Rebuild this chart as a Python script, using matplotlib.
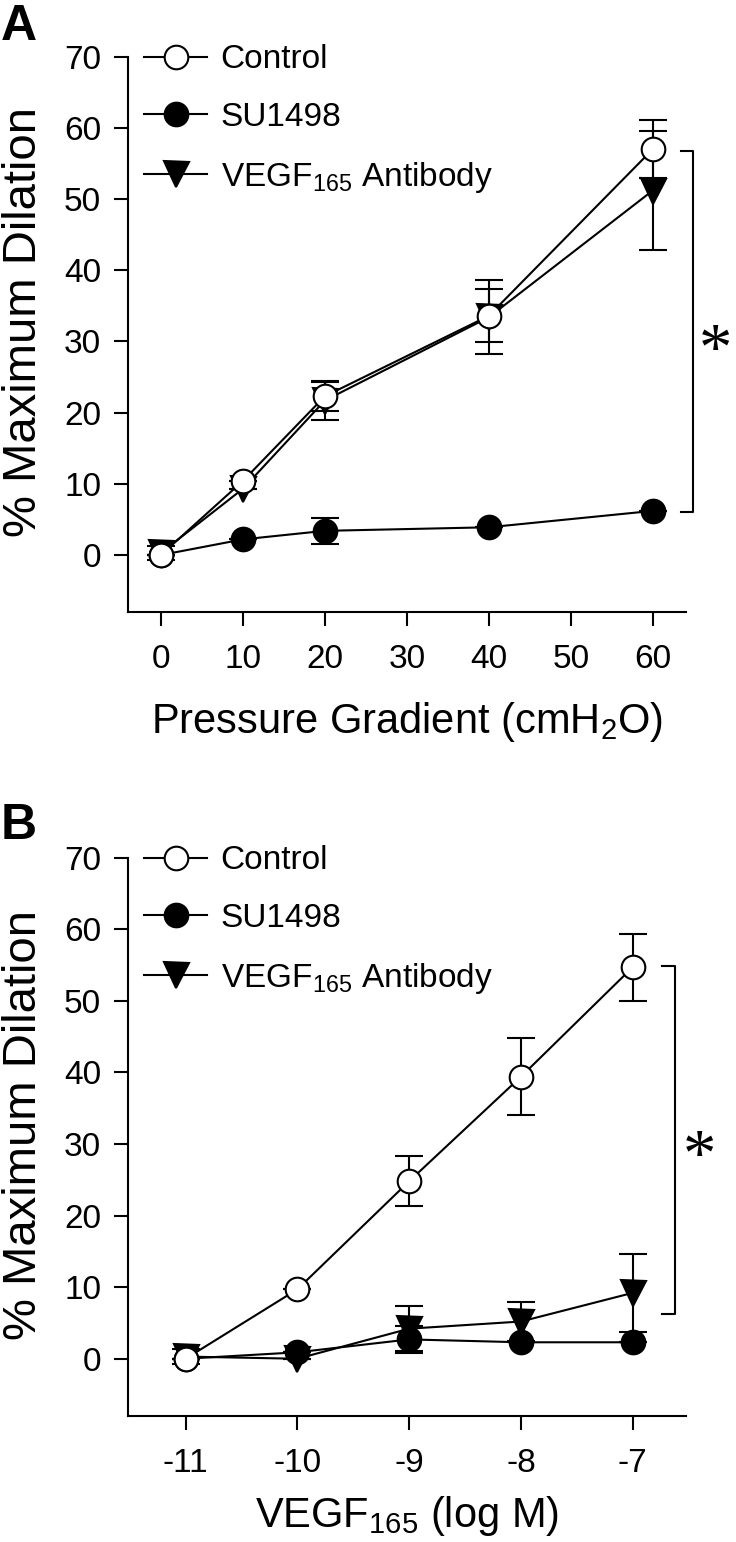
import matplotlib.pyplot as plt

plt.rcParams['font.family'] = ['Liberation Sans', 'DejaVu Sans']
plt.rcParams['mathtext.fontset'] = 'custom'
plt.rcParams['mathtext.rm'] = 'Liberation Sans'
plt.rcParams['mathtext.it'] = 'Liberation Sans:italic'
plt.rcParams['mathtext.bf'] = 'Liberation Sans:bold'

# panel A: flow (pressure gradient)
pressure = [0, 10, 20, 40, 60]
ctrl_a = [0.0, 10.4, 22.3, 33.6, 57.0]
ctrl_a_err = [0, 0, 2.0, 3.7, 4.1]
su_a = [0.0, 2.2, 3.4, 3.9, 6.2]
su_a_err = [0, 0, 1.8, 0, 0]
ab_a = [0.3, 9.3, 21.7, 33.4, 51.2]
ab_a_err = [1.0, 0, 2.8, 5.2, 8.4]

# panel B: VEGF165 concentration
log_conc = [-11, -10, -9, -8, -7]
ctrl_b = [0.0, 9.7, 24.8, 39.4, 54.7]
ctrl_b_err = [0, 0, 3.5, 5.4, 4.7]
su_b = [0.0, 0.9, 2.7, 2.3, 2.3]
su_b_err = [0, 0, 1.9, 0, 0]
ab_b = [0.3, 0.0, 4.2, 5.2, 9.2]
ab_b_err = [1.0, 0, 3.1, 2.7, 5.5]

labels = ['Control', 'SU1498', r'VEGF$_{\mathregular{165}}$ Antibody']
yticks = [0, 10, 20, 30, 40, 50, 60, 70]

LW = 1.5
MS = 17


def DrawPanel(ax, x, ctrl, ctrl_err, su, su_err, ab, ab_err):
    # error bars first so the markers sit on top of them
    for y, e in [(ab, ab_err), (su, su_err), (ctrl, ctrl_err)]:
        ax.errorbar(x, y, yerr=e, fmt='none', ecolor='black', elinewidth=LW,
                    capsize=10, capthick=LW, zorder=1, clip_on=False)
    ax.plot(x, ab, '-v', color='black', lw=LW, ms=MS + 1, mfc='black', mec='black',
            mew=LW, zorder=2, label=labels[2], clip_on=False)
    ax.plot(x, su, '-o', color='black', lw=LW, ms=MS, mfc='black', mec='black',
            mew=LW, zorder=3, label=labels[1], clip_on=False)
    ax.plot(x, ctrl, '-o', color='black', lw=LW, ms=MS, mfc='white', mec='black',
            mew=LW, zorder=4, label=labels[0], clip_on=False)

    handles, labs = ax.get_legend_handles_labels()
    order = [2, 1, 0]
    ax.legend([handles[i] for i in order], [labs[i] for i in order],
              loc='upper left', bbox_to_anchor=(0.0295, 1.022), frameon=False,
              fontsize=24, numpoints=1, handlelength=1.9, handletextpad=0.4,
              labelspacing=0.8, borderpad=0, borderaxespad=0)

    ax.set_ylim(-8, 70)
    ax.set_yticks(yticks)
    for side in ['top', 'right']:
        ax.spines[side].set_visible(False)
    for side in ['left', 'bottom']:
        ax.spines[side].set_linewidth(LW)
    ax.tick_params(axis='both', direction='out', length=10, width=LW, labelsize=24)
    ax.tick_params(axis='x', pad=13)
    ax.tick_params(axis='y', pad=9)


def Bracket(ax, x0, x1, ytop, ybot, xstar, ystar):
    ax.plot([x0, x1, x1, x0], [ytop, ytop, ybot, ybot], color='black', lw=LW, clip_on=False)
    ax.text(xstar, ystar, '*', fontsize=48, family='Liberation Serif',
            ha='center', va='center', clip_on=False)


fig = plt.figure(figsize=(7.36, 15.42), dpi=100)
axA = fig.add_axes([127.5 / 736, 1 - 612 / 1542, 558.5 / 736, 555.3 / 1542])
axB = fig.add_axes([127.5 / 736, 1 - 1416 / 1542, 558.5 / 736, 558.3 / 1542])

DrawPanel(axA, pressure, ctrl_a, ctrl_a_err, su_a, su_a_err, ab_a, ab_a_err)
axA.set_xlim(-4.07, 64.06)
axA.set_xticks([0, 10, 20, 30, 40, 50, 60])
axA.set_xlabel(r'Pressure Gradient (cmH$_{\mathregular{2}}$O)', fontsize=30, labelpad=18)
Bracket(axA, 63.45, 64.9, 56.7, 6.1, 67.6, 28.5)

DrawPanel(axB, log_conc, ctrl_b, ctrl_b_err, su_b, su_b_err, ab_b, ab_b_err)
axB.set_xlim(-11.52, -6.523)
axB.set_xticks(log_conc)
axB.set_xticklabels([str(v) for v in log_conc])
axB.set_xlabel(r'VEGF$_{\mathregular{165}}$ (log M)', fontsize=30, labelpad=11)
Bracket(axB, -6.74, -6.62, 54.9, 6.2, -6.40, 28.0)

fig.text(24 / 736, 1 - 322 / 1542, '% Maximum Dilation', rotation=90, fontsize=34,
         ha='center', va='center')
fig.text(24 / 736, 1 - 1125 / 1542, '% Maximum Dilation', rotation=90, fontsize=34,
         ha='center', va='center')
fig.text(1 / 736, 1 - 4 / 1542, 'A', fontsize=36, fontweight='bold', ha='left', va='top')
fig.text(1 / 736, 1 - 803 / 1542, 'B', fontsize=36, fontweight='bold', ha='left', va='top')

fig.savefig('out.png', dpi=100)
